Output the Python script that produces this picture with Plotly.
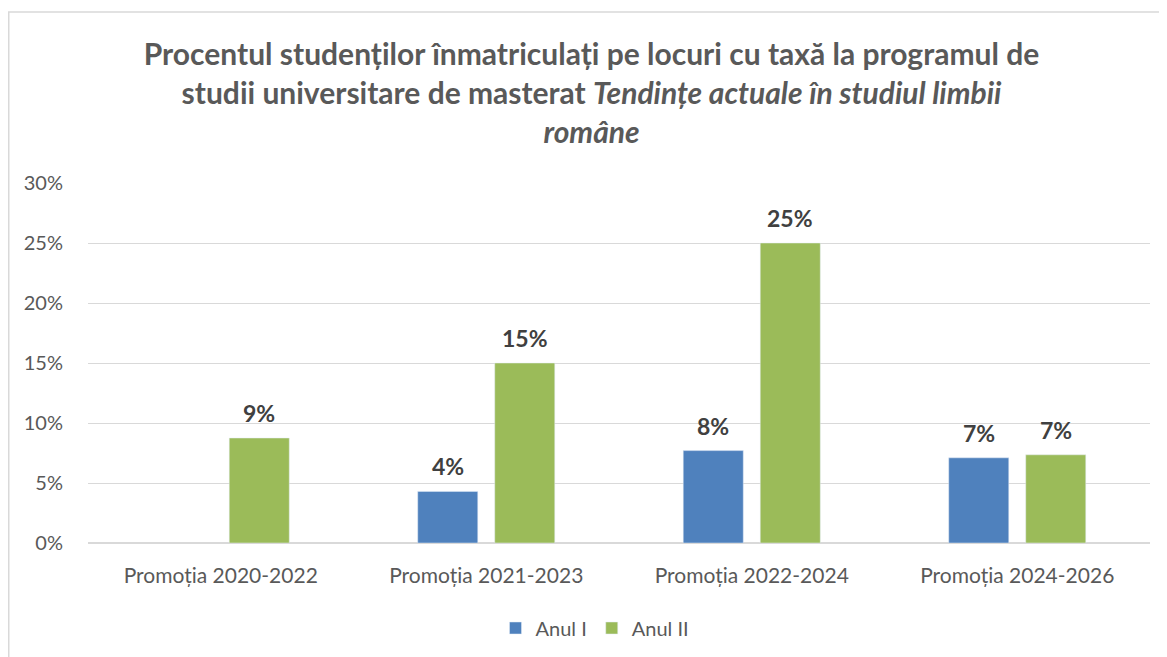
import plotly.graph_objects as go

categories = ["Promoția 2020-2022", "Promoția 2021-2023", "Promoția 2022-2024", "Promoția 2024-2026"]
anul_i = [None, 0.043, 0.077, 0.071]
anul_ii = [0.0875, 0.15, 0.25, 0.0735]
y_ticks = [0, 0.05, 0.10, 0.15, 0.20, 0.25, 0.30]
y_tick_labels = ["0%", "5%", "10%", "15%", "20%", "25%", "30%"]

FONT = "Lato"
GREY = "#595959"
BLUE = "#4F81BD"
GREEN = "#9BBB59"

W, H = 1167, 657
L, R, T, B = 80, 25, 175, 122
pw = W - L - R
ph = H - T - B
BARGAP, GROUPGAP = 0.42, 0.22
slot_px = (1 - BARGAP) * pw / len(categories) / 2

fig = go.Figure()
fig.add_trace(go.Bar(name="Anul I", x=categories, y=anul_i, marker_color=BLUE))
fig.add_trace(go.Bar(name="Anul II", x=categories, y=anul_ii, marker_color=GREEN))

annotations = []
for series, shift in ((anul_i, -slot_px / 2), (anul_ii, slot_px / 2)):
    for cat, v in zip(categories, series):
        if v is None:
            continue
        annotations.append(dict(
            x=cat, y=v, xref="x", yref="y", text=f"{round(v * 100):d}%",
            showarrow=False, xshift=shift, yshift=25, yanchor="middle",
            font=dict(family=FONT, size=23, color="#404040", weight="bold"),
        ))

fig.update_layout(
    width=W, height=H,
    margin=dict(l=L, r=R, t=T, b=B, autoexpand=False),
    paper_bgcolor="white", plot_bgcolor="white",
    font=dict(family=FONT, color=GREY),
    title=dict(
        text="Procentul studenților înmatriculați pe locuri cu taxă la programul de<br>"
             "studii universitare de masterat <i>Tendințe actuale în studiul limbii</i><br>"
             "<i>române</i>",
        x=0.5, xanchor="center", xref="container",
        y=1 - 57 / H, yanchor="middle", yref="container",
        font=dict(family=FONT, size=30, color=GREY, weight="bold"),
    ),
    barmode="group", bargap=BARGAP, bargroupgap=GROUPGAP,
    showlegend=True,
    legend=dict(
        orientation="h", x=0.5 - 24 / pw, xanchor="center", y=(535 - 620) / ph, yanchor="middle",
        font=dict(family=FONT, size=20, color=GREY),
        itemwidth=30, traceorder="normal",
    ),
    xaxis=dict(
        showgrid=False, showline=True, linecolor="#d9d9d9", linewidth=1,
        ticks="outside", ticklen=14, tickcolor="rgba(0,0,0,0)",
        tickfont=dict(family=FONT, size=21, color=GREY),
    ),
    yaxis=dict(
        range=[0, 0.30], tickvals=y_ticks, ticktext=y_tick_labels,
        showgrid=True, gridcolor="#d9d9d9", gridwidth=1,
        zeroline=True, zerolinecolor="#d9d9d9",
        ticks="outside", ticklen=20, tickcolor="rgba(0,0,0,0)",
        tickfont=dict(family=FONT, size=20, color=GREY),
    ),
    annotations=annotations,
    shapes=[dict(
        type="rect", xref="paper", yref="paper",
        x0=(0.75 - L) / pw, x1=(W + 20 - L) / pw,
        y0=(T + ph - (H + 20)) / ph, y1=(T + ph - 4) / ph,
        line=dict(color="#d9d9d9", width=1.5), fillcolor="rgba(0,0,0,0)", layer="below",
    )],
)

fig.write_html("out.html")
